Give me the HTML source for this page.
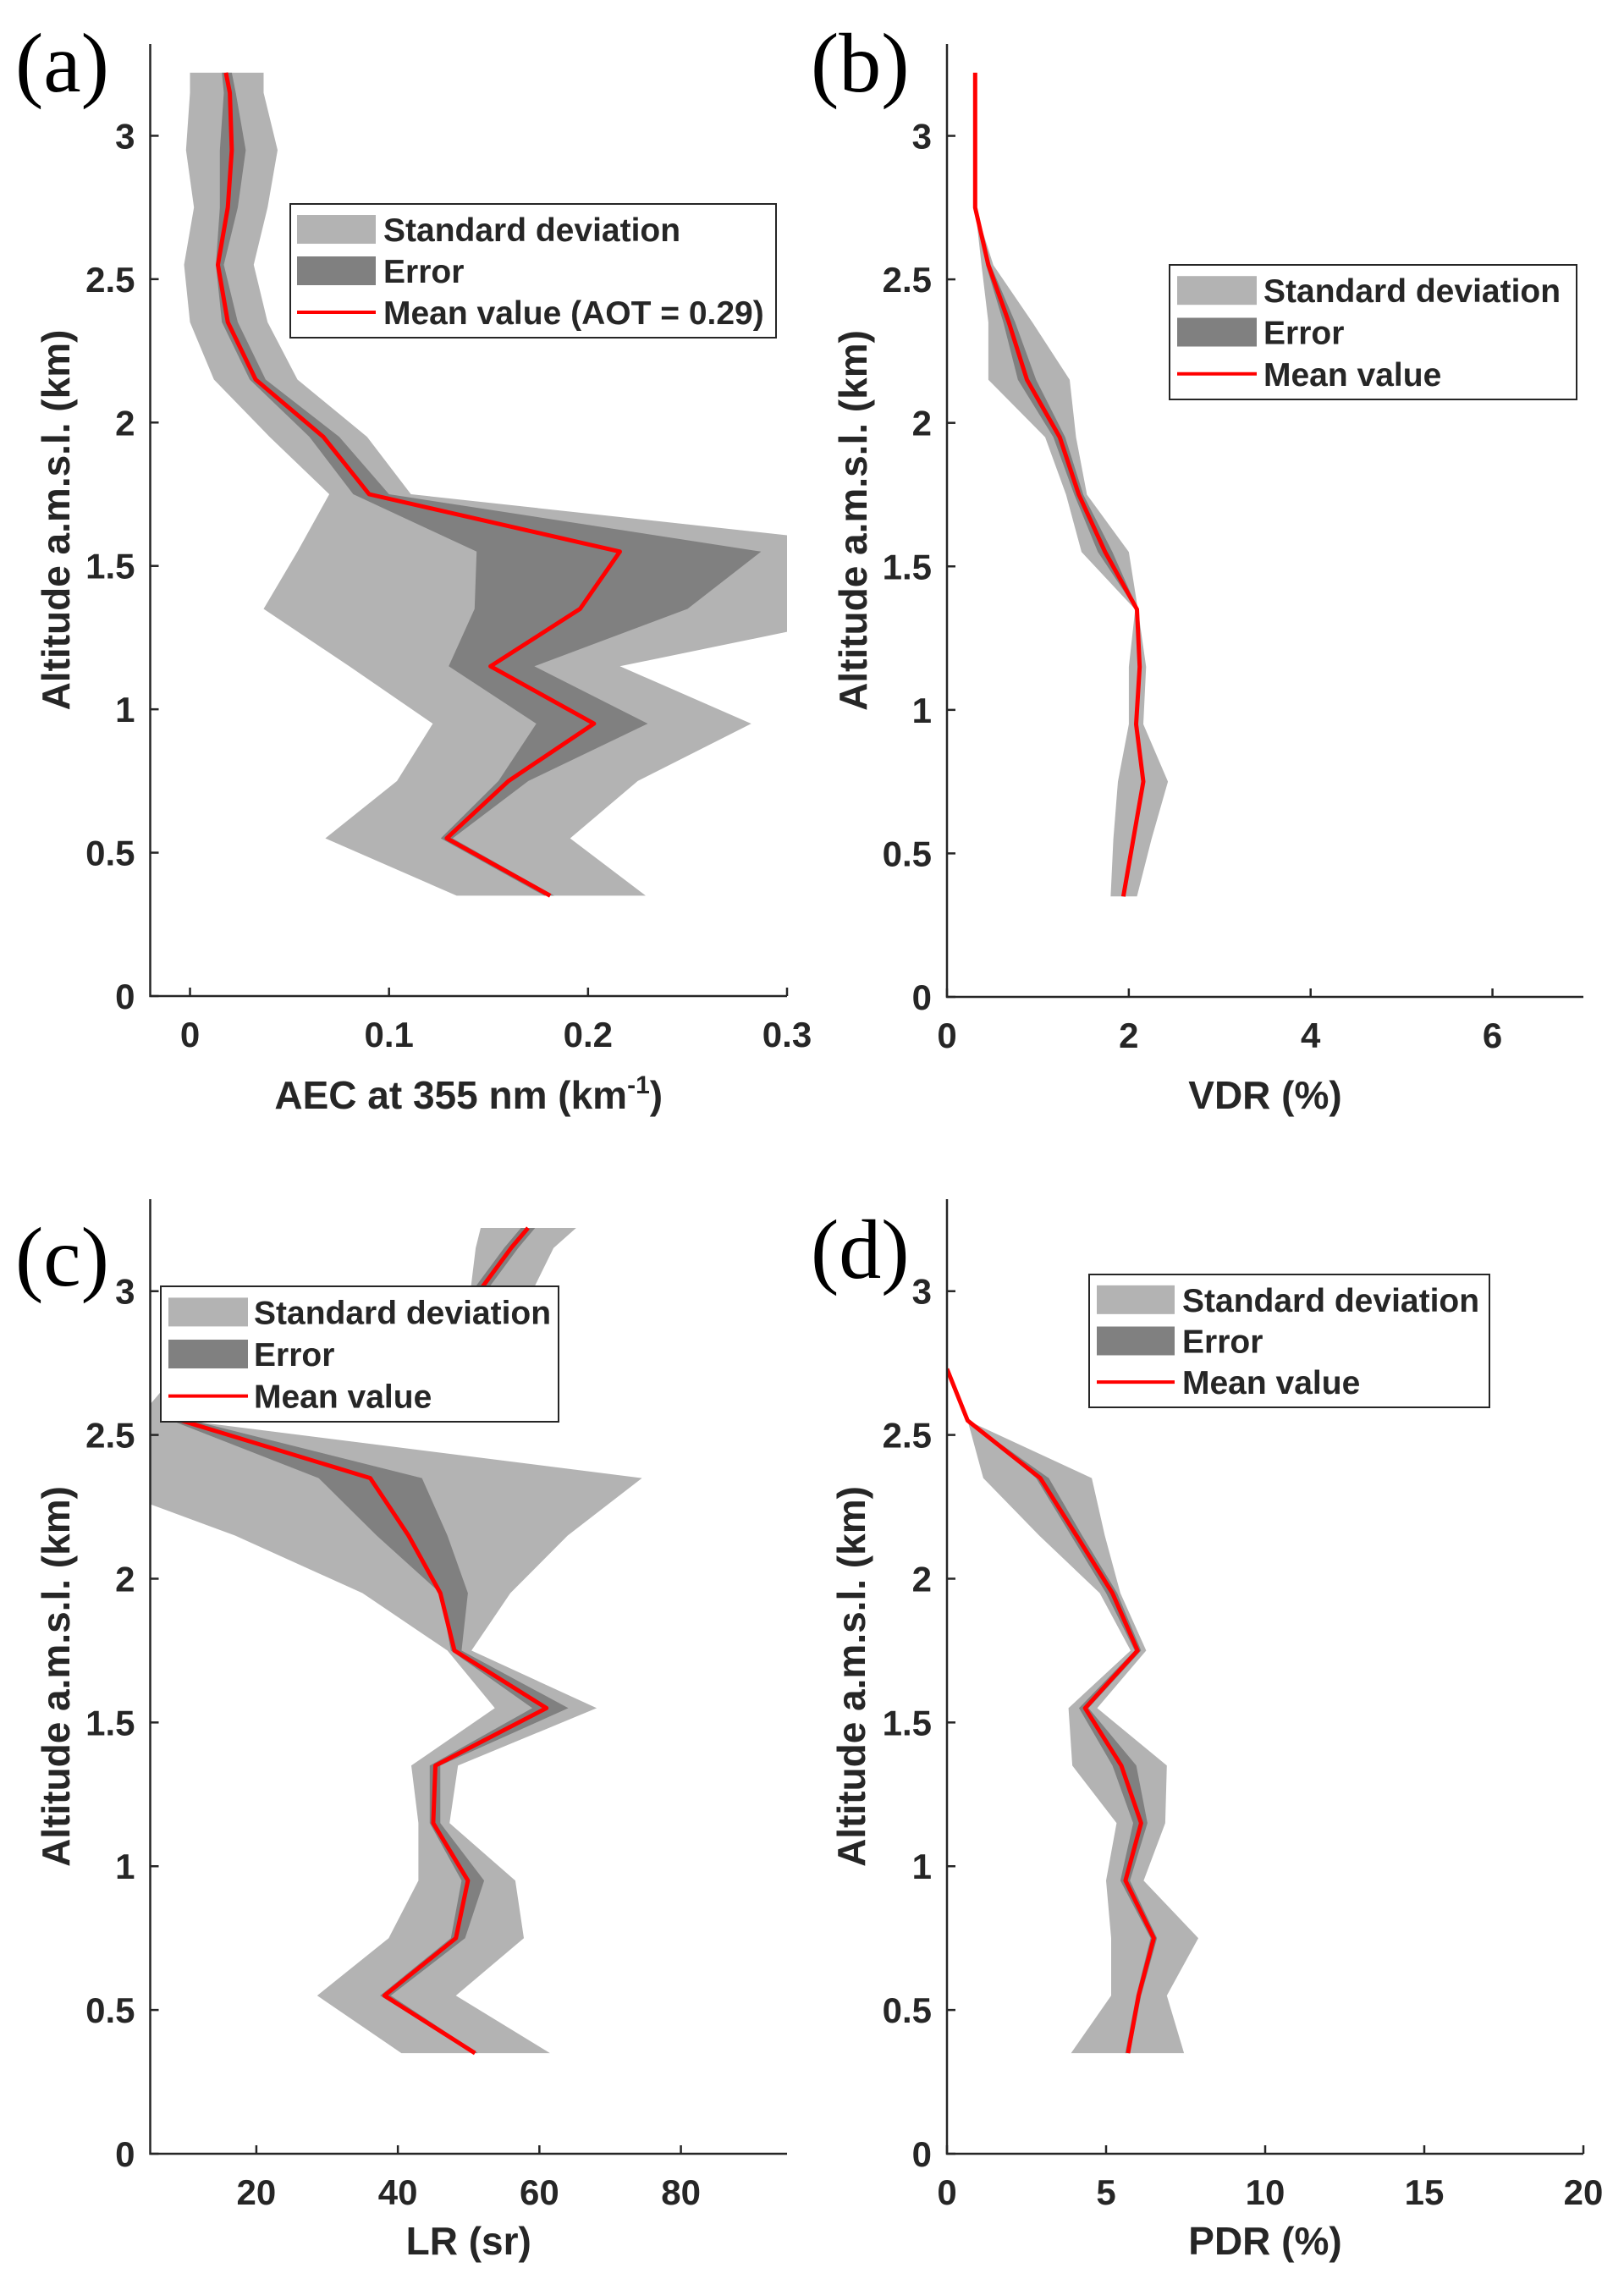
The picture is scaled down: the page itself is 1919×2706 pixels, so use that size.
<!DOCTYPE html>
<html><head><meta charset="utf-8"><title>Profiles</title>
<style>
html,body{margin:0;padding:0;background:#fff;}
svg{display:block;}
text{font-family:"Liberation Sans",Arial,sans-serif;font-weight:bold;fill:#262626;}
.plabel{font-family:"Liberation Serif","Times New Roman",serif;font-weight:normal;fill:#000;font-size:100px;}
</style></head>
<body>
<svg id="fig" xmlns="http://www.w3.org/2000/svg" width="1919" height="2706" viewBox="0 0 1919 2706">
<rect x="0" y="0" width="1919" height="2706" fill="#fff"/>
<text class="plabel" x="18" y="108">(a)</text>
<text class="plabel" x="958" y="108">(b)</text>
<text class="plabel" x="18" y="1519">(c)</text>
<text class="plabel" x="958" y="1510">(d)</text>
</svg>
<script>
// ---- Panel (a) AEC data ----
const altA = [0.35,0.55,0.75,0.95,1.15,1.35,1.55,1.75,1.95,2.15,2.35,2.55,2.75,2.95,3.15,3.22];
const meanA = [0.181,0.129,0.160,0.203,0.151,0.196,0.216,0.090,0.067,0.033,0.019,0.014,0.019,0.021,0.020,0.018];
const sdLoA = [0.134,0.068,0.104,0.122,0.080,0.037,0.054,0.070,0.040,0.012,0.000,-0.003,0.002,-0.002,0.000,0.000];
const sdHiA = [0.229,0.191,0.225,0.282,0.216,0.356,0.375,0.111,0.089,0.054,0.039,0.032,0.039,0.044,0.037,0.037];
const erLoA = [0.178,0.126,0.155,0.174,0.130,0.143,0.144,0.082,0.060,0.030,0.016,0.013,0.015,0.015,0.017,0.016];
const erHiA = [0.183,0.132,0.170,0.230,0.173,0.250,0.287,0.100,0.075,0.038,0.024,0.017,0.024,0.028,0.023,0.021];
const xTicksA = [0,0.1,0.2,0.3];
const xTickLabelsA = ["0","0.1","0.2","0.3"];
// ---- Panel (b) VDR data ----
const altB = [0.35,0.55,0.75,0.95,1.15,1.35,1.55,1.75,1.95,2.15,2.35,2.55,2.75,2.95,3.15,3.22];
const meanB = [1.94,2.05,2.16,2.08,2.12,2.09,1.74,1.45,1.24,0.88,0.68,0.455,0.31,0.31,0.31,0.31];
const sdLoB = [1.80,1.83,1.88,2.00,2.00,2.07,1.48,1.31,1.08,0.455,0.455,0.38,0.31,0.31,0.31,0.31];
const sdHiB = [2.09,2.25,2.43,2.16,2.19,2.10,2.00,1.54,1.42,1.35,0.94,0.51,0.31,0.31,0.31,0.31];
const erLoB = [1.92,2.03,2.14,2.06,2.10,2.08,1.66,1.40,1.17,0.78,0.62,0.43,0.31,0.31,0.31,0.31];
const erHiB = [1.96,2.07,2.18,2.10,2.14,2.10,1.82,1.50,1.30,0.98,0.75,0.48,0.31,0.31,0.31,0.31];
const xTicksB = [0,2,4,6];
const xTickLabelsB = ["0","2","4","6"];
// ---- Panel (c) LR data ----
const altC = [0.35,0.55,0.75,0.95,1.15,1.35,1.55,1.75,1.95,2.15,2.35,2.55,2.75,2.95,3.15,3.22];
const meanC = [50.9,38.1,48.2,49.9,45.0,45.3,61.0,48.0,46.0,41.5,36.1,9.4,28,50,56,58.4];
const sdLoC = [40.5,28.6,38.7,42.9,42.9,41.9,53.7,47.0,35.0,17.0,-5,3,10,50,51,51.7];
const sdHiC = [61.5,48.2,57.8,56.6,47.3,48.5,68.1,50.4,55.9,64.0,74.5,10,45,58,62,65.2];
const erLoC = [50.5,37.5,47.5,49.0,44.5,44.5,59.0,47.5,46.0,37.0,28.8,8,27,49,55,57.4];
const erHiC = [51.3,39.0,49.5,52.2,46.0,46.0,64.1,49.0,49.9,47.0,43.4,11,29,51,57,59.4];
const xTicksC = [20,40,60,80];
const xTickLabelsC = ["20","40","60","80"];
// ---- Panel (d) PDR data ----
const altD = [0.35,0.55,0.75,0.95,1.15,1.35,1.55,1.75,1.95,2.15,2.35,2.55,2.73];
const meanD = [5.69,6.02,6.50,5.61,6.10,5.48,4.34,5.99,5.20,4.07,2.93,0.65,0];
const sdLoD = [3.90,5.16,5.16,5.00,5.33,3.94,3.82,5.77,4.80,2.90,1.14,0.65,0];
const sdHiD = [7.45,6.91,7.90,6.18,6.86,6.91,4.72,6.26,5.45,4.96,4.55,0.65,0];
const erLoD = [5.60,5.95,6.40,5.45,5.85,5.20,4.15,5.90,5.00,3.90,2.80,0.65,0];
const erHiD = [5.75,6.10,6.60,5.75,6.30,5.95,4.45,6.10,5.35,4.25,3.20,0.65,0];
const xTicksD = [0,5,10,15,20];
const xTickLabelsD = ["0","5","10","15","20"];
// ---- common ----
const yTicks = [0,0.5,1,1.5,2,2.5,3];
const yTickLabels = ["0","0.5","1","1.5","2","2.5","3"];

const NS = "http://www.w3.org/2000/svg";
const svg = document.getElementById('fig');
function mk(tag, attrs, parent){
  const e = document.createElementNS(NS, tag);
  for (const k in attrs) e.setAttribute(k, attrs[k]);
  (parent||svg).appendChild(e);
  return e;
}

function panel(id, box, xmin, xmax, ymax, alt, mean, sdLo, sdHi, erLo, erHi, xt, xtl, xlabel, legend, ylabX, xlabY){
  const g = mk('g', {});
  
  
  const sx = v => box.l + (v - xmin) / (xmax - xmin) * (box.r - box.l);
  const sy = v => box.b - v / ymax * (box.b - box.t);
  const clip = mk('clipPath', {id: 'clip-' + id}, g);
  mk('rect', {x: box.l, y: box.t, width: box.r - box.l, height: box.b - box.t}, clip);
  const pg = mk('g', {'clip-path': 'url(#clip-' + id + ')'}, g);
  function band(lo, hi, fill, name){
    let pts = [];
    for (let i = 0; i < alt.length; i++) pts.push(sx(lo[i]).toFixed(1) + ',' + sy(alt[i]).toFixed(1));
    for (let i = alt.length - 1; i >= 0; i--) pts.push(sx(hi[i]).toFixed(1) + ',' + sy(alt[i]).toFixed(1));
    const p = mk('polygon', {points: pts.join(' '), fill: fill, stroke: 'none'}, pg);
    
    
  }
  band(sdLo, sdHi, '#b3b3b3', 'std-band-' + id);
  band(erLo, erHi, '#808080', 'error-band-' + id);
  const lp = [];
  for (let i = 0; i < alt.length; i++) lp.push(sx(mean[i]).toFixed(1) + ',' + sy(alt[i]).toFixed(1));
  const line = mk('polyline', {points: lp.join(' '), fill: 'none', stroke: '#ff0000', 'stroke-width': 5, 'stroke-linejoin': 'round'}, pg);
  
  
  const ax = mk('path', {d: 'M' + box.l + ',' + box.t + ' L' + box.l + ',' + box.b + ' L' + box.r + ',' + box.b, fill: 'none', stroke: '#262626', 'stroke-width': 2.5}, g);
  
  
  yTicks.forEach((v, i) => {
    const y = sy(v);
    mk('line', {x1: box.l, x2: box.l + 10, y1: y, y2: y, stroke: '#262626', 'stroke-width': 2.5}, g);
    const t = mk('text', {x: box.l - 18, y: y + 15, 'text-anchor': 'end', 'font-size': 42}, g);
    t.textContent = yTickLabels[i];
    
    
  });
  xt.forEach((v, i) => {
    const x = sx(v);
    mk('line', {x1: x, x2: x, y1: box.b, y2: box.b - 10, stroke: '#262626', 'stroke-width': 2.5}, g);
    const t = mk('text', {x: x, y: box.b + 60, 'text-anchor': 'middle', 'font-size': 42}, g);
    t.textContent = xtl[i];
    
    
  });
  const yl = mk('text', {x: 0, y: 0, 'text-anchor': 'middle', 'font-size': 46, transform: 'translate(' + (ylabX + 16) + ',' + ((box.t + box.b) / 2) + ') rotate(-90)'}, g);
  yl.textContent = 'Altitude a.m.s.l. (km)';
  
  
  const xl = mk('text', {x: (box.l + box.r) / 2, y: xlabY, 'text-anchor': 'middle', 'font-size': 46}, g);
  if (xlabel.sup){
    xl.appendChild(document.createTextNode(xlabel.main));
    const s = mk('tspan', {dy: -18, 'font-size': 30}, xl);
    s.textContent = xlabel.sup;
    const e = mk('tspan', {dy: 18}, xl);
    e.textContent = ')';
  } else xl.textContent = xlabel.main;
  
  
  const lg = mk('g', {}, g);
  
  
  mk('rect', {x: legend.x, y: legend.y, width: legend.w, height: legend.h, fill: '#fff', stroke: '#262626', 'stroke-width': 2}, lg);
  const rows = [legend.y + legend.h * 0.19, legend.y + legend.h * 0.5, legend.y + legend.h * 0.81];
  const sw = legend.sw, tx = legend.tx;
  mk('rect', {x: sw[0], y: rows[0] - 17, width: sw[1] - sw[0], height: 34, fill: '#b3b3b3'}, lg);
  mk('rect', {x: sw[0], y: rows[1] - 17, width: sw[1] - sw[0], height: 34, fill: '#808080'}, lg);
  mk('line', {x1: sw[0], x2: sw[1], y1: rows[2], y2: rows[2], stroke: '#ff0000', 'stroke-width': 4}, lg);
  const labels = ['Standard deviation', 'Error', legend.mean];
  labels.forEach((s, i) => {
    const t = mk('text', {x: tx, y: rows[i] + 14, 'font-size': 39}, lg);
    t.textContent = s;
    
    
  });
}

panel('a', {l: 177.5, r: 930, t: 52, b: 1177}, -0.02, 0.3, 3.32, altA, meanA, sdLoA, sdHiA, erLoA, erHiA, xTicksA, xTickLabelsA,
  {main: 'AEC at 355 nm (km', sup: '-1'}, {x: 343, y: 241, w: 574, h: 158, sw: [351, 444], tx: 453, mean: 'Mean value (AOT = 0.29)'}, 66, 1310);
panel('b', {l: 1119, r: 1871, t: 52, b: 1178}, 0, 7, 3.32, altB, meanB, sdLoB, sdHiB, erLoB, erHiB, xTicksB, xTickLabelsB,
  {main: 'VDR (%)'}, {x: 1382, y: 313, w: 481, h: 159, sw: [1391, 1485], tx: 1493, mean: 'Mean value'}, 1008, 1310);
panel('c', {l: 177.5, r: 930, t: 1417, b: 2545}, 5, 95, 3.32, altC, meanC, sdLoC, sdHiC, erLoC, erHiC, xTicksC, xTickLabelsC,
  {main: 'LR (sr)'}, {x: 190, y: 1520, w: 470, h: 160, sw: [199, 293], tx: 300, mean: 'Mean value'}, 66, 2664);
panel('d', {l: 1119, r: 1871, t: 1417, b: 2545}, 0, 20, 3.32, altD, meanD, sdLoD, sdHiD, erLoD, erHiD, xTicksD, xTickLabelsD,
  {main: 'PDR (%)'}, {x: 1287, y: 1506, w: 473, h: 157, sw: [1296, 1388], tx: 1397, mean: 'Mean value'}, 1006, 2664);
</script>
</body></html>
